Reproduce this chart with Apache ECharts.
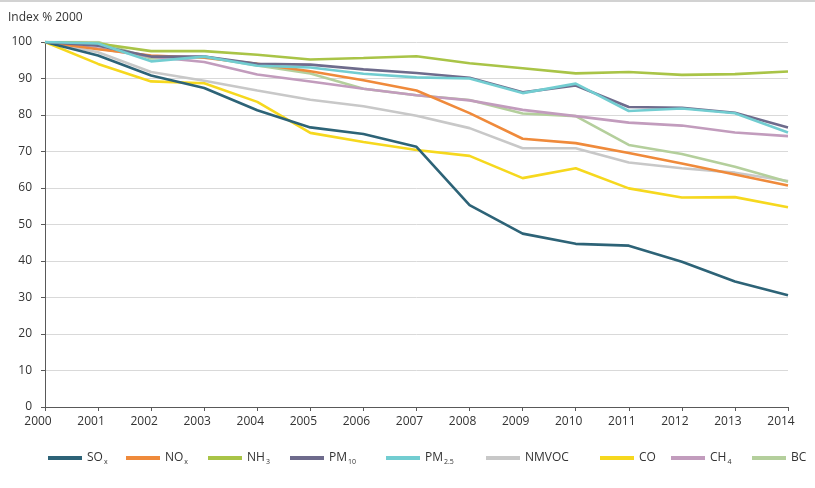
<!DOCTYPE html>
<html>
<head>
<meta charset="utf-8">
<script src="https://cdn.jsdelivr.net/npm/echarts@6/dist/echarts.min.js"></script>
<style>
html,body{margin:0;padding:0;background:#fff;}
#chart{width:815px;height:488px;}
</style>
</head>
<body>
<div id="chart"></div>
<script>
// years on the x axis
var years = ['2000','2001','2002','2003','2004','2005','2006','2007','2008','2009','2010','2011','2012','2013','2014'];
var yTicks = [0,10,20,30,40,50,60,70,80,90,100];

// index values, 2000 = 100
var sox   = [100, 96.3, 90.8, 87.4, 81.3, 76.6, 74.8, 71.3, 55.3, 47.5, 44.7, 44.2, 39.8, 34.4, 30.6];
var nox   = [100, 98.0, 96.3, 95.7, 94.0, 92.0, 89.5, 86.7, 80.5, 73.5, 72.3, 69.6, 66.7, 63.7, 60.7];
var nh3   = [100, 99.6, 97.5, 97.5, 96.5, 95.2, 95.6, 96.1, 94.2, 92.8, 91.4, 91.8, 91.0, 91.2, 91.9];
var pm10  = [100, 99.0, 96.0, 96.0, 94.0, 93.8, 92.5, 91.5, 90.2, 86.2, 88.1, 82.2, 82.0, 80.6, 76.6];
var pm25  = [100, 99.6, 94.7, 96.0, 93.5, 93.0, 91.3, 90.3, 90.0, 86.0, 88.6, 81.1, 81.8, 80.5, 75.2];
var nmvoc = [100, 97.2, 91.8, 89.4, 86.7, 84.2, 82.4, 79.8, 76.4, 70.9, 70.9, 67.0, 65.4, 64.2, 61.9];
var co    = [100, 94.0, 89.2, 88.7, 83.6, 75.1, 72.6, 70.4, 68.8, 62.7, 65.4, 59.9, 57.4, 57.5, 54.7];
var ch4   = [100, 98.2, 96.0, 94.5, 91.1, 89.2, 87.2, 85.4, 84.0, 81.4, 79.7, 77.9, 77.1, 75.2, 74.2];
var bc    = [100, 100, 95.5, 96.0, 93.6, 91.4, 87.2, 85.4, 84.1, 80.4, 79.7, 71.8, 69.3, 65.8, 61.7];

var names  = ['SOx','NOx','NH3','PM10','PM2.5','NMVOC','CO','CH4','BC'];
var labels = ['SO{s|x}','NO{s|x}','NH{s|3}','PM{s|10}','PM{s|2.5}','NMVOC','CO','CH{s|4}','BC'];
var values = [sox, nox, nh3, pm10, pm25, nmvoc, co, ch4, bc];
var colors = ['#2d6377','#ef8a3b','#a9c447','#6e6b8c','#72cdd1','#c8c8c8','#f6d81e','#c29cbd','#b4cf9c'];
var legendLeft = [43, 121, 203, 285, 381, 481, 595, 666, 747];

var font = '"Open Sans", sans-serif';

var chart = echarts.init(document.getElementById('chart'));

var series = [];
var legends = [];
// draw order: lighter lines under, so list them first
var order = [5, 6, 8, 7, 1, 0, 2, 3, 4];
for (var k = 0; k < order.length; k++) {
	var i = order[k];
	series.push({
		name: names[i],
		type: 'line',
		data: values[i],
		symbol: 'none',
		lineStyle: {width: 2.6, color: colors[i]},
		itemStyle: {color: colors[i]},
		z: 2 + k
	});
}
for (var j = 0; j < names.length; j++) {
	(function(idx){
		legends.push({
			data: [names[idx]],
			left: legendLeft[idx],
			top: 447,
			icon: 'rect',
			itemWidth: 34,
			itemHeight: 4,
			itemGap: 0,
			formatter: function(){ return labels[idx]; },
			textStyle: {
				fontFamily: font,
				fontSize: 12,
				color: '#333',
				rich: {
					s: {fontSize: 7, fontFamily: font, color: '#333', padding: [7, 0, 0, 1]}
				}
			}
		});
	})(j);
}

var option = {
	animation: false,
	backgroundColor: '#fff',
	color: colors,
	graphic: [{
		type: 'rect',
		left: 0, top: 0,
		shape: {width: 815, height: 2},
		style: {fill: '#d2d2d2'}
	}],
	grid: {left: 45, right: 27, top: 42, bottom: 81},
	legend: legends,
	xAxis: {
		type: 'category',
		data: years,
		boundaryGap: false,
		axisLine: {lineStyle: {color: '#595959', width: 1}},
		axisTick: {show: true, length: 4, lineStyle: {color: '#595959'}},
		axisLabel: {
			color: '#333', fontFamily: font, fontSize: 12, margin: 9,
			padding: [0, 14, 0, 0]
		},
		splitLine: {show: false}
	},
	yAxis: {
		type: 'value',
		min: yTicks[0],
		max: yTicks[yTicks.length - 1],
		interval: 10,
		name: 'Index % 2000',
		nameLocation: 'end',
		nameGap: 18,
		nameTextStyle: {color: '#333', fontFamily: font, fontSize: 12, align: 'left', padding: [0, 0, 0, -37]},
		axisLine: {show: true, lineStyle: {color: '#595959', width: 1}},
		axisTick: {show: true, length: 4, lineStyle: {color: '#595959'}},
		axisLabel: {color: '#333', fontFamily: font, fontSize: 12, margin: 13},
		splitLine: {lineStyle: {color: '#d9d9d9', width: 1}}
	},
	series: series
};
chart.setOption(option);
</script>
</body>
</html>
